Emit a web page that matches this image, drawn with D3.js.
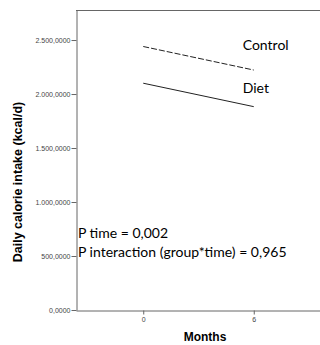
<!DOCTYPE html>
<html lang="en">
  <head>
    <meta charset="UTF-8" />
    <title>calorie intake</title>
    <style>
      body { margin: 0; background: #fff; }
      .tick text { fill: #444; font-family: "Liberation Sans", Arial, sans-serif; font-size: 7px; }
      .tick line, .domain { stroke: #666; }
      .lab { font-family: Lato, "Open Sans", sans-serif; font-size: 14px; fill: #000; }
    </style>
  </head>
  <body>
    <div id="wrapper"></div>
    <script src="https://d3js.org/d3.v7.min.js"></script>
    <script>
      // data
      const months = [0, 6];
      const groups = ["Control", "Diet"];
      const controlValues = [2440, 2222];
      const dietValues = [2100, 1883];
      const yTicks = [0, 500, 1000, 1500, 2000, 2500];
      const xTicks = [0, 6];
      const notes = ["P time = 0,002", "P interaction (group*time) = 0,965"];

      const width = 320, height = 345;
      const margin = {top: 10, right: 0, bottom: 35, left: 76};

      const svg = d3.select("#wrapper").append("svg")
        .attr("width", width).attr("height", height);

      const x = d3.scaleLinear().domain([-3.65, 9.65]).range([margin.left, 321]);
      const y = d3.scaleLinear().domain([0, 2778]).range([height - margin.bottom, margin.top]);

      // frame top line
      svg.append("line")
        .attr("x1", margin.left).attr("x2", width)
        .attr("y1", y(2778) + 0.5).attr("y2", y(2778) + 0.5)
        .attr("stroke", "#666");

      const fmt = d => d3.format(",.0f")(d).replace(/,/g, ".") + ",0000";

      svg.append("g")
        .attr("transform", `translate(${margin.left + 0.5},0)`)
        .call(d3.axisLeft(y).tickValues(yTicks).tickFormat(fmt).tickSize(5).tickPadding(1).tickSizeOuter(0));

      svg.append("g")
        .attr("transform", `translate(0,${y(0) + 0.5})`)
        .call(d3.axisBottom(x).tickValues(xTicks).tickSize(4).tickPadding(3).tickSizeOuter(0));

      svg.selectAll(".domain").attr("stroke", "#555");

      const series = [
        {name: groups[0], values: controlValues, dash: "6,2", labelDy: 3},
        {name: groups[1], values: dietValues, dash: null, labelDy: 10}
      ];

      const line = d3.line().x((d, i) => x(months[i])).y(d => y(d));

      svg.selectAll(".series")
        .data(series)
        .join("path")
          .attr("fill", "none")
          .attr("stroke", "#222")
          .attr("stroke-width", 1)
          .attr("stroke-dasharray", d => d.dash)
          .attr("d", d => line(d.values));

      // series labels
      svg.selectAll(".slab")
        .data(series)
        .join("text")
          .attr("class", "lab")
          .attr("x", x(5.4))
          .attr("y", d => y(d.values[0]) + d.labelDy)
          .text(d => d.name);

      svg.selectAll(".note")
        .data(notes)
        .join("text")
          .attr("class", "lab")
          .attr("x", margin.left + 2)
          .attr("y", (d, i) => 238 + i * 19)
          .text(d => d);

      svg.append("text")
        .attr("transform", `translate(22,182) rotate(-90)`)
        .attr("text-anchor", "middle")
        .attr("font-family", "Liberation Sans, Arial, sans-serif")
        .attr("font-weight", "bold")
        .attr("font-size", 12.5)
        .text("Daily calorie intake (kcal/d)");

      svg.append("text")
        .attr("x", 205).attr("y", 341)
        .attr("text-anchor", "middle")
        .attr("font-family", "Liberation Sans, Arial, sans-serif")
        .attr("font-weight", "bold")
        .attr("font-size", 12)
        .text("Months");
    </script>
  </body>
</html>
